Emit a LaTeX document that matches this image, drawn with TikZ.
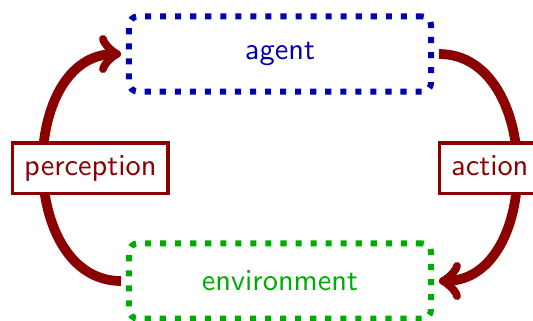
\documentclass[tikz,border=0pt]{standalone}
\usepackage{tikz}
\usetikzlibrary{positioning}
\definecolor{agentblue}{RGB}{0,0,175}
\definecolor{envgreen}{RGB}{0,170,0}
\definecolor{loopred}{RGB}{139,0,0}
\tikzset{
stage/.style={draw, rounded corners=3pt, line width=2pt, dash pattern=on 2pt off 2.95pt, minimum width=99.4pt, minimum height=24.8pt, outer sep=2.6pt, font=\sffamily},
tag/.style={draw=loopred, fill=white, text=loopred, line width=1.1pt, inner sep=3.8pt, text height=7pt, text depth=2pt, font=\sffamily},
feedback/.style={draw=loopred, line width=3.2pt, looseness=1.17},
}

\begin{document}
\begin{tikzpicture}[x=0.329pt, y=0.329pt]
    \useasboundingbox (0,0) rectangle (533,320);

    %boxes
    \node[stage, draw=agentblue, text=agentblue] (agent) at (280,266) {agent};
    \node[stage, draw=envgreen, text=envgreen]     (env) at (280,39) {environment};

    %loop
    \draw[feedback, ->] (env.west) to[out=180, in=180] (agent.west);
    \draw[feedback, ->] (agent.east) to[out=0, in=0] (env.east);

    %labels
    \node[tag] (perception) at (90.4,151.7) {perception};
    \node[tag]     (action) at (489.8,151.7) {action};
\end{tikzpicture}
\end{document}
